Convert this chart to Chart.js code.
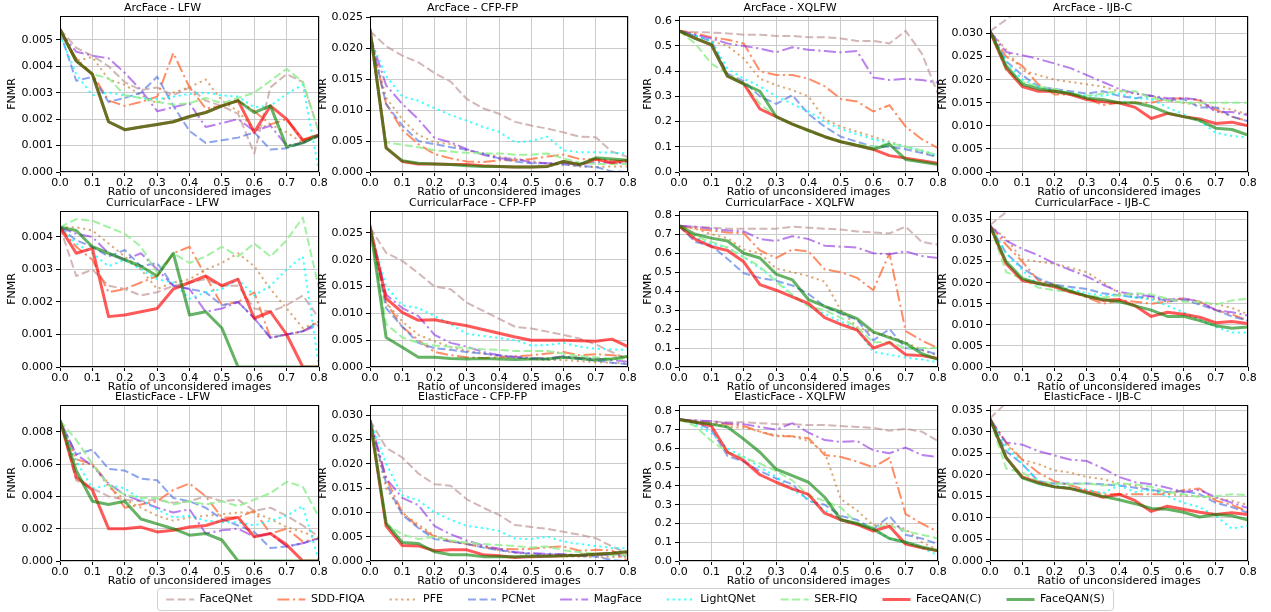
<!DOCTYPE html>
<html><head><meta charset="utf-8">
<script src="https://cdn.jsdelivr.net/npm/chart.js@4.4.1/dist/chart.umd.min.js"></script>
<style>
html,body{margin:0;padding:0;background:#fff;}
body{width:1271px;height:612px;position:relative;overflow:hidden;}
canvas{position:absolute;display:block;}
</style>
</head><body>
<script>
// ---------------- data ----------------
const ratios = [0,0.05,0.1,0.15,0.2,0.25,0.3,0.35,0.4,0.45,0.5,0.55,0.6,0.65,0.7,0.75,0.8];
const methods = ['FaceQNet','SDD-FIQA','PFE','PCNet','MagFace','LightQNet','SER-FIQ','FaceQAN(C)','FaceQAN(S)'];
const panelTitles = ['ArcFace - LFW','ArcFace - CFP-FP','ArcFace - XQLFW','ArcFace - IJB-C',
  'CurricularFace - LFW','CurricularFace - CFP-FP','CurricularFace - XQLFW','CurricularFace - IJB-C',
  'ElasticFace - LFW','ElasticFace - CFP-FP','ElasticFace - XQLFW','ElasticFace - IJB-C'];
const yAxisMax  = [0.0059,0.0252,0.619,0.0338, 0.0048,0.0291,0.823,0.0370, 0.00966,0.0321,0.832,0.0362];
const yTickStep = [0.001,0.005,0.1,0.005, 0.001,0.005,0.1,0.005, 0.002,0.005,0.1,0.005];
const yTickDecimals = [3,3,1,3, 3,3,1,3, 3,3,1,3];

// series order follows `methods`
const arcLFW = [
  [0.0054,0.0047,0.0044,0.0040,0.0034,0.0031,0.0032,0.0029,0.0032,0.0027,0.0025,0.0022,0.0007,0.0032,0.0037,0.0034,0.0015],
  [0.0053,0.0043,0.0037,0.0027,0.0025,0.00265,0.00285,0.0045,0.0032,0.0024,0.0025,0.0027,0.0023,0.0018,0.0020,0.0012,0.0014],
  [0.0053,0.0042,0.00435,0.0035,0.0033,0.0029,0.0026,0.0030,0.0032,0.0035,0.0027,0.0023,0.0016,0.0018,0.0015,0.0011,0.0014],
  [0.0053,0.00345,0.0036,0.00265,0.0028,0.0030,0.0036,0.0025,0.00155,0.0011,0.0012,0.0013,0.0015,0.00085,0.0009,0.0011,0.00135],
  [0.0053,0.00455,0.0044,0.0043,0.00375,0.0031,0.0023,0.00245,0.0026,0.0017,0.00185,0.0020,0.00155,0.00175,0.0010,0.0011,0.0014],
  [0.0052,0.0037,0.0029,0.0030,0.0029,0.0028,0.00275,0.00285,0.00295,0.0030,0.0029,0.00285,0.00245,0.0025,0.00295,0.0033,0.0],
  [0.0053,0.0042,0.0037,0.00355,0.0029,0.0028,0.00265,0.00255,0.0026,0.0028,0.0026,0.0028,0.0030,0.00345,0.0039,0.0034,0.0015],
  [0.0054,0.0042,0.0037,0.0019,0.0016,0.0017,0.0018,0.0019,0.0021,0.00225,0.0025,0.0027,0.0015,0.0025,0.0020,0.0012,0.0014],
  [0.0054,0.0042,0.0037,0.0019,0.0016,0.0017,0.0018,0.0019,0.0021,0.00225,0.0025,0.0027,0.00225,0.0025,0.00095,0.0011,0.0014]
];
const arcCFP = [
  [0.0228,0.0203,0.0188,0.0177,0.0160,0.0146,0.0118,0.0103,0.0094,0.0081,0.0075,0.0070,0.0064,0.0057,0.0056,0.0033,0.0024],
  [0.0220,0.0110,0.0068,0.0045,0.0029,0.0022,0.0017,0.0016,0.0019,0.0019,0.0021,0.0025,0.0028,0.0021,0.0020,0.0019,0.0017],
  [0.0220,0.0120,0.0085,0.0060,0.0048,0.0045,0.0035,0.0030,0.0025,0.0020,0.0018,0.0013,0.0012,0.0009,0.0008,0.0009,0.0009],
  [0.0220,0.0110,0.0075,0.0050,0.0045,0.0040,0.0036,0.0030,0.0022,0.0017,0.0014,0.0014,0.0012,0.0010,0.0008,0.0001,0.0000],
  [0.0220,0.0140,0.0110,0.0085,0.0055,0.0048,0.0037,0.0028,0.0022,0.0022,0.0015,0.0014,0.0014,0.0012,0.0016,0.0015,0.0014],
  [0.0215,0.0155,0.0122,0.0115,0.0103,0.0092,0.0083,0.0073,0.0065,0.0048,0.0050,0.0057,0.0035,0.0032,0.0032,0.0031,0.0030],
  [0.0220,0.0048,0.0044,0.0040,0.0035,0.0033,0.0031,0.0030,0.0030,0.0028,0.0028,0.0030,0.0022,0.0015,0.0013,0.0013,0.0013],
  [0.0231,0.0039,0.0017,0.0013,0.0013,0.0012,0.0012,0.0010,0.0009,0.0008,0.0008,0.0009,0.0017,0.0012,0.0021,0.0015,0.0019],
  [0.0231,0.0039,0.0018,0.0014,0.0013,0.0012,0.0010,0.0009,0.0009,0.0008,0.0008,0.0009,0.0017,0.0012,0.0023,0.0021,0.0019]
];
const arcXQLFW = [
  [0.56,0.555,0.553,0.55,0.545,0.545,0.54,0.54,0.535,0.535,0.53,0.52,0.52,0.51,0.56,0.47,0.31],
  [0.56,0.55,0.535,0.525,0.51,0.40,0.385,0.385,0.37,0.34,0.29,0.28,0.24,0.265,0.18,0.13,0.095],
  [0.56,0.54,0.52,0.50,0.45,0.37,0.345,0.325,0.30,0.21,0.18,0.16,0.14,0.12,0.10,0.08,0.06],
  [0.56,0.54,0.52,0.39,0.36,0.30,0.27,0.305,0.23,0.18,0.14,0.12,0.10,0.10,0.09,0.075,0.06],
  [0.56,0.545,0.53,0.51,0.50,0.49,0.475,0.495,0.485,0.48,0.475,0.48,0.375,0.365,0.37,0.365,0.355],
  [0.56,0.54,0.52,0.41,0.37,0.34,0.30,0.27,0.24,0.20,0.17,0.15,0.13,0.115,0.10,0.085,0.065],
  [0.56,0.51,0.43,0.39,0.35,0.27,0.22,0.19,0.16,0.14,0.12,0.11,0.10,0.115,0.10,0.085,0.065],
  [0.56,0.53,0.505,0.38,0.35,0.25,0.22,0.19,0.165,0.14,0.12,0.105,0.09,0.065,0.055,0.045,0.035],
  [0.56,0.53,0.505,0.38,0.35,0.32,0.22,0.19,0.165,0.14,0.12,0.105,0.09,0.11,0.05,0.04,0.03]
];
const arcIJBC = [
  [0.0305,0.0330,0.0356,0.0370,0.0375,0.0380,0.0378,0.0382,0.0385,0.0383,0.0388,0.0390,0.0392,0.0395,0.0398,0.0400,0.0405],
  [0.0305,0.0250,0.0230,0.0190,0.0168,0.0168,0.0160,0.0145,0.0150,0.0150,0.0150,0.0158,0.0160,0.0155,0.0135,0.0120,0.0110],
  [0.0305,0.0265,0.0220,0.0210,0.0200,0.0195,0.0190,0.0185,0.0175,0.0170,0.0165,0.0155,0.0150,0.0145,0.0140,0.0135,0.0125],
  [0.0305,0.0240,0.0210,0.0185,0.0180,0.0175,0.0170,0.0175,0.0165,0.0160,0.0165,0.0155,0.0158,0.0140,0.0140,0.0120,0.0110],
  [0.0305,0.0260,0.0253,0.0245,0.0235,0.0225,0.0210,0.0195,0.0180,0.0170,0.0165,0.0160,0.0160,0.0157,0.0130,0.0130,0.0123],
  [0.0305,0.0240,0.0200,0.0185,0.0175,0.0170,0.0165,0.0165,0.0170,0.0160,0.0158,0.0140,0.0125,0.0110,0.0085,0.0078,0.0075],
  [0.0305,0.0220,0.0195,0.0185,0.0180,0.0170,0.0165,0.0170,0.0175,0.0175,0.0160,0.0155,0.0150,0.0150,0.0150,0.0150,0.0150],
  [0.0305,0.0225,0.0185,0.0175,0.0175,0.0168,0.0157,0.0152,0.0150,0.0140,0.0116,0.0127,0.0120,0.0115,0.0105,0.0108,0.0100],
  [0.0305,0.0230,0.0190,0.0180,0.0175,0.0170,0.0160,0.0157,0.0150,0.0150,0.0142,0.0128,0.0120,0.0112,0.0095,0.0092,0.0080]
];
const curLFW = [
  [0.0043,0.0028,0.0030,0.0025,0.0024,0.0022,0.0023,0.0025,0.0026,0.0027,0.0025,0.0025,0.0018,0.0017,0.0019,0.0022,0.0015],
  [0.0043,0.0037,0.0033,0.0023,0.0024,0.0026,0.0028,0.0035,0.0037,0.0028,0.0019,0.0020,0.0023,0.0009,0.0010,0.0011,0.0014],
  [0.0043,0.0043,0.0042,0.0038,0.0034,0.0030,0.0024,0.0026,0.0027,0.0030,0.0032,0.0035,0.0031,0.0024,0.0018,0.0012,0.0014],
  [0.0043,0.0039,0.0037,0.0034,0.0036,0.0031,0.0032,0.0025,0.0024,0.0023,0.0019,0.0020,0.0015,0.0009,0.0010,0.0011,0.0014],
  [0.0043,0.0041,0.0040,0.0035,0.0033,0.0035,0.0030,0.0025,0.0024,0.0017,0.0018,0.0020,0.0015,0.0009,0.0010,0.0011,0.0013],
  [0.0043,0.0038,0.0035,0.0031,0.0033,0.0030,0.0027,0.0026,0.0021,0.0023,0.0024,0.0027,0.0022,0.0025,0.0030,0.0034,0.0000],
  [0.0043,0.00455,0.0045,0.0043,0.0041,0.0037,0.0029,0.0035,0.0032,0.0034,0.0037,0.0034,0.0038,0.0034,0.0039,0.0046,0.0024],
  [0.0043,0.0035,0.00365,0.00155,0.0016,0.0017,0.0018,0.0024,0.0026,0.0028,0.0025,0.0027,0.0015,0.0017,0.0010,0.0000,0.0000],
  [0.0043,0.0042,0.0037,0.0035,0.0033,0.0031,0.0028,0.0035,0.0016,0.0017,0.0012,0.0000,0.0000,0.0000,0.0000,0.0000,0.0000]
];
const curCFP = [
  [0.0260,0.0213,0.0198,0.0175,0.0150,0.0145,0.0120,0.0105,0.0090,0.0075,0.0072,0.0066,0.0060,0.0053,0.0042,0.0028,0.0014],
  [0.0260,0.0120,0.0075,0.0050,0.0028,0.0022,0.0018,0.0017,0.0018,0.0020,0.0022,0.0025,0.0028,0.0022,0.0024,0.0022,0.0018],
  [0.0260,0.0120,0.0085,0.0060,0.0048,0.0037,0.0030,0.0025,0.0020,0.0018,0.0015,0.0013,0.0013,0.0011,0.0009,0.0008,0.0007],
  [0.0260,0.0110,0.0075,0.0045,0.0035,0.0032,0.0028,0.0025,0.0022,0.0018,0.0015,0.0015,0.0018,0.0015,0.0012,0.0008,0.0005],
  [0.0260,0.0135,0.0110,0.0095,0.0060,0.0045,0.0038,0.0028,0.0022,0.0019,0.0017,0.0016,0.0020,0.0017,0.0016,0.0013,0.0010],
  [0.0260,0.0150,0.0115,0.0110,0.0095,0.0080,0.0062,0.0058,0.0054,0.0050,0.0040,0.0041,0.0045,0.0038,0.0034,0.0033,0.0032],
  [0.0260,0.0080,0.0055,0.0045,0.0040,0.0038,0.0035,0.0033,0.0032,0.0030,0.0030,0.0030,0.0025,0.0020,0.0018,0.0015,0.0014],
  [0.0262,0.0128,0.0102,0.0087,0.0088,0.0082,0.0077,0.0070,0.0063,0.0056,0.0050,0.0050,0.0050,0.0049,0.0048,0.0052,0.0038],
  [0.0265,0.0055,0.0037,0.0018,0.0018,0.0016,0.0015,0.0016,0.0015,0.0014,0.0015,0.0015,0.0018,0.0016,0.0013,0.0015,0.0020]
];
const curXQLFW = [
  [0.745,0.74,0.735,0.73,0.73,0.73,0.73,0.74,0.735,0.73,0.725,0.715,0.71,0.705,0.74,0.66,0.645],
  [0.745,0.73,0.72,0.71,0.705,0.615,0.575,0.62,0.61,0.515,0.50,0.47,0.405,0.60,0.19,0.14,0.10],
  [0.745,0.73,0.70,0.68,0.62,0.60,0.52,0.50,0.48,0.45,0.30,0.21,0.18,0.16,0.13,0.09,0.06],
  [0.745,0.66,0.64,0.57,0.495,0.47,0.455,0.43,0.385,0.32,0.28,0.25,0.14,0.20,0.10,0.09,0.065],
  [0.745,0.74,0.73,0.72,0.715,0.675,0.665,0.69,0.675,0.64,0.635,0.63,0.60,0.595,0.61,0.585,0.575],
  [0.745,0.68,0.65,0.63,0.58,0.52,0.46,0.38,0.32,0.28,0.24,0.20,0.08,0.065,0.05,0.04,0.025],
  [0.745,0.69,0.66,0.63,0.58,0.53,0.45,0.38,0.32,0.30,0.26,0.21,0.13,0.13,0.10,0.10,0.10],
  [0.745,0.675,0.635,0.615,0.555,0.435,0.405,0.37,0.335,0.26,0.225,0.195,0.10,0.13,0.065,0.06,0.045],
  [0.745,0.70,0.68,0.665,0.60,0.575,0.49,0.46,0.355,0.32,0.29,0.255,0.185,0.155,0.125,0.07,0.04]
];
const curIJBC = [
  [0.0337,0.0367,0.0395,0.0410,0.0420,0.0425,0.0428,0.0430,0.0432,0.0435,0.0437,0.0440,0.0442,0.0445,0.0447,0.0450,0.0452],
  [0.0335,0.0290,0.0250,0.0205,0.0195,0.0180,0.0165,0.0150,0.0158,0.0155,0.0150,0.0155,0.0163,0.0155,0.0135,0.0125,0.0110],
  [0.0335,0.0305,0.0255,0.0250,0.0245,0.0235,0.0225,0.0200,0.0175,0.0165,0.0162,0.0155,0.0160,0.0150,0.0150,0.0140,0.0125],
  [0.0335,0.0270,0.0235,0.0210,0.0195,0.0190,0.0185,0.0175,0.0170,0.0165,0.0168,0.0155,0.0160,0.0148,0.0135,0.0120,0.0110],
  [0.0335,0.0300,0.0280,0.0265,0.0245,0.0230,0.0215,0.0195,0.0178,0.0172,0.0168,0.0160,0.0163,0.0155,0.0135,0.0130,0.0122],
  [0.0335,0.0270,0.0230,0.0195,0.0190,0.0185,0.0175,0.0170,0.0170,0.0165,0.0160,0.0145,0.0130,0.0112,0.0095,0.0082,0.0082],
  [0.0335,0.0225,0.0210,0.0188,0.0182,0.0178,0.0170,0.0165,0.0170,0.0175,0.0172,0.0162,0.0155,0.0155,0.0148,0.0158,0.0162],
  [0.0335,0.0245,0.0205,0.0198,0.0190,0.0178,0.0168,0.0158,0.0160,0.0145,0.0120,0.0130,0.0125,0.0118,0.0105,0.0108,0.0103],
  [0.0335,0.0250,0.0210,0.0198,0.0193,0.0180,0.0168,0.0160,0.0155,0.0145,0.0135,0.0120,0.0120,0.0110,0.0098,0.0092,0.0095]
];
const elaLFW = [
  [0.0087,0.0050,0.0045,0.0040,0.0038,0.0037,0.0038,0.0036,0.0037,0.0040,0.0037,0.0038,0.0031,0.0033,0.0028,0.0022,0.0015],
  [0.0087,0.0063,0.0060,0.0048,0.0033,0.0035,0.0037,0.0044,0.0048,0.0040,0.0027,0.0027,0.0031,0.0017,0.0020,0.0012,0.0014],
  [0.0087,0.0060,0.0060,0.0046,0.0038,0.0033,0.0028,0.0025,0.0027,0.0028,0.0029,0.0030,0.0030,0.0026,0.0021,0.0018,0.0014],
  [0.0087,0.0066,0.0069,0.0057,0.0056,0.0051,0.0050,0.0039,0.0037,0.0033,0.0026,0.0022,0.0018,0.0008,0.0009,0.0011,0.0014],
  [0.0087,0.0066,0.0059,0.0048,0.0041,0.0037,0.0033,0.0030,0.0032,0.0017,0.0019,0.0020,0.0015,0.0017,0.0009,0.0011,0.0014],
  [0.0087,0.0062,0.0045,0.0047,0.0045,0.0038,0.0032,0.0027,0.0028,0.0025,0.0024,0.0024,0.0022,0.0025,0.0028,0.0034,0.0000],
  [0.0087,0.0075,0.0060,0.0047,0.0041,0.0039,0.0039,0.0035,0.0037,0.0035,0.0037,0.0034,0.0038,0.0042,0.0049,0.0046,0.0027],
  [0.0087,0.0052,0.0044,0.0020,0.0020,0.0021,0.0018,0.0019,0.0021,0.0022,0.0025,0.0027,0.0015,0.0017,0.0010,0.0000,0.0000],
  [0.0087,0.0056,0.0037,0.0035,0.0037,0.0026,0.0023,0.0020,0.0016,0.0017,0.0013,0.0000,0.0000,0.0000,0.0000,0.0000,0.0000]
];
const elaCFP = [
  [0.0290,0.0233,0.0213,0.0180,0.0158,0.0155,0.0127,0.0110,0.0095,0.0074,0.0070,0.0066,0.0060,0.0054,0.0047,0.0030,0.0015],
  [0.0290,0.0170,0.0100,0.0070,0.0050,0.0040,0.0035,0.0028,0.0025,0.0024,0.0025,0.0028,0.0030,0.0021,0.0023,0.0022,0.0000],
  [0.0290,0.0150,0.0098,0.0075,0.0052,0.0042,0.0035,0.0030,0.0022,0.0017,0.0013,0.0012,0.0010,0.0009,0.0008,0.0008,0.0008],
  [0.0290,0.0160,0.0095,0.0068,0.0045,0.0040,0.0035,0.0028,0.0022,0.0018,0.0015,0.0014,0.0013,0.0011,0.0009,0.0002,0.0000],
  [0.0290,0.0170,0.0130,0.0115,0.0072,0.0055,0.0042,0.0032,0.0025,0.0018,0.0016,0.0015,0.0014,0.0012,0.0013,0.0012,0.0012],
  [0.0290,0.0200,0.0135,0.0125,0.0100,0.0085,0.0072,0.0068,0.0062,0.0046,0.0045,0.0050,0.0040,0.0035,0.0031,0.0027,0.0026],
  [0.0290,0.0075,0.0055,0.0045,0.0050,0.0042,0.0038,0.0035,0.0033,0.0031,0.0028,0.0030,0.0022,0.0018,0.0015,0.0012,0.0012],
  [0.0290,0.0072,0.0032,0.0031,0.0021,0.0023,0.0023,0.0013,0.0011,0.0007,0.0009,0.0010,0.0011,0.0012,0.0014,0.0016,0.0019],
  [0.0290,0.0078,0.0038,0.0036,0.0019,0.0013,0.0013,0.0009,0.0009,0.0009,0.0010,0.0010,0.0011,0.0012,0.0014,0.0016,0.0019]
];
const elaXQLFW = [
  [0.755,0.75,0.745,0.74,0.74,0.735,0.73,0.73,0.725,0.725,0.72,0.715,0.71,0.695,0.705,0.69,0.64],
  [0.755,0.745,0.735,0.73,0.72,0.69,0.665,0.665,0.655,0.565,0.555,0.53,0.50,0.55,0.25,0.20,0.155],
  [0.755,0.74,0.73,0.715,0.71,0.69,0.67,0.665,0.64,0.58,0.33,0.27,0.19,0.20,0.17,0.10,0.06],
  [0.755,0.74,0.70,0.56,0.53,0.48,0.44,0.41,0.32,0.30,0.24,0.22,0.17,0.24,0.14,0.12,0.09],
  [0.755,0.75,0.745,0.735,0.73,0.715,0.70,0.735,0.685,0.645,0.635,0.64,0.59,0.575,0.605,0.565,0.555],
  [0.755,0.73,0.68,0.60,0.555,0.50,0.45,0.38,0.33,0.27,0.22,0.20,0.17,0.12,0.10,0.07,0.03],
  [0.755,0.72,0.64,0.58,0.55,0.52,0.48,0.43,0.35,0.32,0.285,0.20,0.18,0.19,0.16,0.14,0.12],
  [0.755,0.74,0.72,0.58,0.535,0.46,0.42,0.385,0.355,0.255,0.22,0.195,0.16,0.185,0.09,0.07,0.055],
  [0.755,0.74,0.73,0.715,0.65,0.58,0.49,0.455,0.42,0.34,0.22,0.20,0.17,0.12,0.10,0.075,0.055]
];
const elaIJBC = [
  [0.0331,0.0367,0.0400,0.0415,0.0420,0.0425,0.0428,0.0430,0.0433,0.0436,0.0438,0.0440,0.0443,0.0445,0.0448,0.0450,0.0452],
  [0.0330,0.0275,0.0235,0.0205,0.0185,0.0175,0.0165,0.0155,0.0155,0.0155,0.0155,0.0155,0.0165,0.0168,0.0140,0.0130,0.0115],
  [0.0330,0.0270,0.0235,0.0225,0.0210,0.0205,0.0195,0.0190,0.0180,0.0175,0.0165,0.0155,0.0152,0.0150,0.0145,0.0140,0.0130],
  [0.0330,0.0255,0.0225,0.0185,0.0180,0.0180,0.0180,0.0178,0.0175,0.0170,0.0165,0.0160,0.0162,0.0155,0.0135,0.0125,0.0112],
  [0.0330,0.0275,0.0270,0.0255,0.0245,0.0235,0.0232,0.0215,0.0195,0.0183,0.0178,0.0170,0.0160,0.0165,0.0148,0.0135,0.0123],
  [0.0330,0.0265,0.0225,0.0185,0.0175,0.0170,0.0165,0.0158,0.0175,0.0160,0.0165,0.0150,0.0135,0.0125,0.0105,0.0075,0.0082],
  [0.0330,0.0215,0.0205,0.0185,0.0180,0.0178,0.0180,0.0175,0.0180,0.0178,0.0172,0.0160,0.0155,0.0148,0.0150,0.0155,0.0153],
  [0.0330,0.0240,0.0195,0.0182,0.0172,0.0168,0.0160,0.0148,0.0155,0.0140,0.0115,0.0127,0.0120,0.0113,0.0108,0.0112,0.0108],
  [0.0330,0.0240,0.0193,0.0180,0.0172,0.0168,0.0158,0.0150,0.0142,0.0133,0.0122,0.0120,0.0113,0.0102,0.0108,0.0105,0.0095]
];
const panelSeries = [arcLFW, arcCFP, arcXQLFW, arcIJBC, curLFW, curCFP, curXQLFW, curIJBC, elaLFW, elaCFP, elaXQLFW, elaIJBC];

// ---------------- styles ----------------
const FONT = 'DejaVu Sans';
const lineColors = ['rgba(188,143,143,0.65)','rgba(255,112,64,0.8)','rgba(205,133,63,0.7)','rgba(65,105,225,0.6)',
  'rgba(138,43,226,0.6)','rgba(0,255,255,0.75)','rgba(144,238,144,0.85)','rgba(255,0,0,0.65)','rgba(0,128,0,0.6)'];
const lineWidths = [2,2,2,2,2,2,2,3,3];
const lineDashes = [[8,3.5],[12,3.5,2.2,3.5],[2.2,3.6],[8,3.5],[12,3.5,2.2,3.5],[2.2,3.6],[8,3.5],[],[]];

const colPlotLeft = [60,370,679,990];
const colPlotWidth = [259,258,259,258];
const colAxisWidth = [54,53,37,53];
const rowPlotTop = [16,211,405];
const PLOT_H = 156, TITLE_H = 16, XAXIS_H = 27, RIGHT_PAD = 12;

const frame = {
  id: 'frame',
  afterDraw(chart) {
    const a = chart.chartArea, c = chart.ctx;
    c.save(); c.strokeStyle = '#000'; c.lineWidth = 1;
    c.strokeRect(a.left + 0.5, a.top + 0.5, a.right - a.left - 1, a.bottom - a.top - 1);
    c.restore();
  }
};

function makeCanvas(left, top, w, h) {
  const cv = document.createElement('canvas');
  cv.width = w; cv.height = h;
  cv.style.left = left + 'px'; cv.style.top = top + 'px';
  cv.style.width = w + 'px'; cv.style.height = h + 'px';
  document.body.appendChild(cv);
  return cv;
}

const font11 = { family: FONT, size: 11 };

panelSeries.forEach((series, p) => {
  const r = Math.floor(p / 4), c = p % 4;
  const yw = colAxisWidth[c];
  const w = yw + colPlotWidth[c] + RIGHT_PAD;
  const h = TITLE_H + PLOT_H + XAXIS_H;
  const cv = makeCanvas(colPlotLeft[c] - yw, rowPlotTop[r] - TITLE_H, w, h);
  const dec = yTickDecimals[p];
  new Chart(cv, {
    type: 'line',
    data: {
      datasets: series.map((vals, i) => ({
        label: methods[i],
        data: ratios.map((x, k) => ({ x: x, y: vals[k] })),
        borderColor: lineColors[i],
        backgroundColor: lineColors[i],
        borderWidth: lineWidths[i],
        borderDash: lineDashes[i],
        borderJoinStyle: 'round',
        pointRadius: 0, pointHoverRadius: 0,
        tension: 0, fill: false,
        order: methods.length - 1 - i
      }))
    },
    options: {
      responsive: false, animation: false, events: [],
      layout: { padding: { left: 0, right: RIGHT_PAD, top: 0, bottom: 0 } },
      plugins: {
        legend: { display: false }, tooltip: { enabled: false },
        title: { display: true, text: panelTitles[p], color: '#000',
          font: { family: FONT, size: 11, weight: 'normal' }, padding: { top: 1.5, bottom: 1.3 } }
      },
      scales: {
        x: {
          type: 'linear', min: 0, max: 0.8,
          ticks: { stepSize: 0.1, includeBounds: false, autoSkip: false, maxRotation: 0,
            callback: v => v.toFixed(1), color: '#000', font: font11, padding: 1 },
          grid: { color: '#cbcbcb', lineWidth: 1, drawTicks: true, tickLength: 4, tickColor: '#000' },
          border: { display: false },
          title: { display: true, text: 'Ratio of unconsidered images', color: '#000', font: font11, padding: 0 },
          afterFit: s => { s.height = XAXIS_H; s.paddingLeft = 0; s.paddingRight = 0; }
        },
        y: {
          type: 'linear', min: 0, max: yAxisMax[p],
          ticks: { stepSize: yTickStep[p], includeBounds: false, autoSkip: false,
            callback: v => v.toFixed(dec), color: '#000', font: font11, padding: 3 },
          grid: { color: '#cbcbcb', lineWidth: 1, drawTicks: true, tickLength: 4, tickColor: '#000' },
          border: { display: false },
          title: { display: true, text: 'FNMR', color: '#000', font: font11, padding: 0 },
          afterFit: s => { s.width = yw; s.paddingTop = 0; s.paddingBottom = 0; }
        }
      }
    },
    plugins: [frame]
  });
});

// ---------------- legend ----------------
const LEG_PAD = 25;
const legendFrame = {
  id: 'legendFrame',
  afterDraw(chart) {
    const boxes = chart.legend && chart.legend.legendHitBoxes;
    if (!boxes || !boxes.length) return;
    let x0 = Infinity, x1 = -Infinity, y0 = Infinity, y1 = -Infinity;
    boxes.forEach(b => { x0 = Math.min(x0, b.left); x1 = Math.max(x1, b.left + b.width);
      y0 = Math.min(y0, b.top); y1 = Math.max(y1, b.top + b.height); });
    const c = chart.ctx;
    c.save(); c.strokeStyle = '#d0d0d0'; c.lineWidth = 1;
    c.beginPath();
    c.roundRect(Math.round(x0 - 9) + 0.5, Math.round(y0 - 6) + 0.5, Math.round(x1 - x0 + 17), Math.round(y1 - y0 + 11), 3);
    c.stroke(); c.restore();
  }
};
const legCanvas = makeCanvas(0, 594 - LEG_PAD, 1271, 160);
new Chart(legCanvas, {
  type: 'line',
  data: { datasets: methods.map((m, i) => ({ label: m, data: [], borderColor: lineColors[i], backgroundColor: lineColors[i],
    borderWidth: lineWidths[i], borderDash: lineDashes[i] })) },
  options: {
    responsive: false, animation: false, events: [],
    layout: { padding: 0 },
    scales: { x: { display: false }, y: { display: false } },
    plugins: {
      tooltip: { enabled: false },
      legend: { display: true, position: 'top', align: 'center',
        labels: { usePointStyle: true, pointStyleWidth: 28, boxHeight: 11,
          font: font11, color: '#000', padding: LEG_PAD,
          generateLabels: chart => chart.data.datasets.map((ds, i) => ({
            text: ds.label, datasetIndex: i, hidden: false,
            fillStyle: ds.borderColor, strokeStyle: ds.borderColor,
            lineWidth: ds.borderWidth, lineDash: ds.borderDash, lineCap: 'butt',
            pointStyle: 'line', fontColor: '#000'
          })) } }
    }
  },
  plugins: [legendFrame]
});
</script>
</body></html>
